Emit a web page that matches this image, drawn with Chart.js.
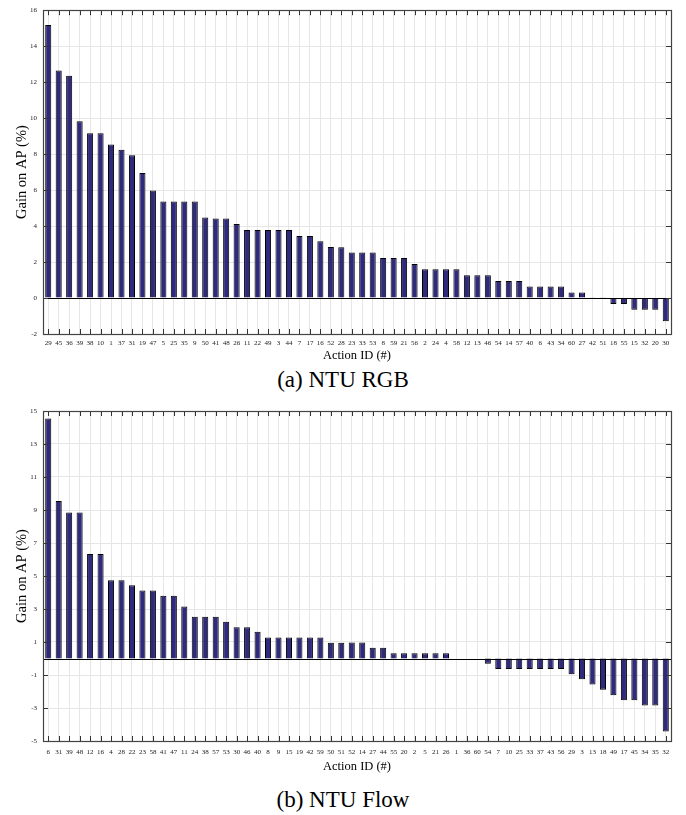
<!DOCTYPE html>
<html>
<head>
<meta charset="utf-8">
<script src="https://cdn.jsdelivr.net/npm/chart.js@4/dist/chart.umd.min.js"></script>
<style>
  html, body { margin: 0; padding: 0; background: #fff; }
  body { width: 686px; height: 815px; position: relative; overflow: hidden; }
  canvas { position: absolute; left: 0; }
  .cap { position: absolute; left: 0; width: 686px; text-align: center; line-height: 26px;
         font-family: "Liberation Serif", serif; font-size: 23px; color: #000; }
</style>
</head>
<body>
<canvas id="rgb-chart" width="686" height="365" style="top:0"></canvas>
<div class="cap" style="top:367px">(a) NTU RGB</div>
<canvas id="flow-chart" width="686" height="375" style="top:400px"></canvas>
<div class="cap" style="top:787px">(b) NTU Flow</div>
<script>
// (a) NTU RGB - action ids sorted by gain
const rgbActions = ['29','45','36','39','38','10','1','37','31','19',
  '47','5','25','35','9','50','41','48','26','11',
  '22','49','3','44','7','17','16','52','28','23',
  '33','53','8','59','21','56','2','24','4','58',
  '12','13','46','54','14','57','40','6','43','34',
  '60','27','42','51','18','55','15','32','20','30'];
const rgbGain = [15.18, 12.65, 12.35, 9.82, 9.16, 9.16, 8.53, 8.24, 7.93, 6.95,
  5.98, 5.36, 5.36, 5.36, 5.36, 4.47, 4.42, 4.42, 4.11, 3.78,
  3.78, 3.78, 3.78, 3.78, 3.45, 3.45, 3.16, 2.84, 2.82, 2.53,
  2.53, 2.53, 2.22, 2.22, 2.22, 1.89, 1.6, 1.6, 1.6, 1.6,
  1.27, 1.27, 1.27, 0.95, 0.95, 0.95, 0.64, 0.64, 0.64, 0.64,
  0.31, 0.31, 0.02, 0.02, -0.33, -0.33, -0.65, -0.65, -0.65, -1.29];
const rgbYRange = [-2, 16];

// (b) NTU Flow
const flowActions = ['6','31','39','48','12','16','4','28','22','23',
  '58','41','47','11','24','38','57','53','30','46',
  '40','8','9','15','19','42','59','50','51','52',
  '14','27','44','55','20','2','5','21','26','1',
  '36','60','54','7','10','25','33','37','43','56',
  '29','3','13','18','49','17','45','34','35','32'];
const flowGain = [14.55, 9.54, 8.85, 8.85, 6.34, 6.34, 4.75, 4.75, 4.44, 4.12,
  4.12, 3.8, 3.8, 3.15, 2.53, 2.53, 2.53, 2.22, 1.9, 1.9,
  1.62, 1.27, 1.27, 1.27, 1.27, 1.27, 1.27, 0.95, 0.95, 0.97,
  0.97, 0.65, 0.65, 0.32, 0.32, 0.32, 0.32, 0.32, 0.32, 0,
  0, 0, -0.32, -0.63, -0.63, -0.63, -0.63, -0.63, -0.63, -0.63,
  -0.95, -1.25, -1.57, -1.9, -2.22, -2.53, -2.53, -2.85, -2.85, -4.42];
const flowYRange = [-5, 15];

const serif = '"Liberation Serif", "Times New Roman", serif';

// matlab style box, inward ticks and zero line
const matlabAxes = {
  id: 'matlabAxes',
  afterDatasetsDraw(chart) {
    const { ctx, chartArea: a, scales: { x, y } } = chart;
    ctx.save();
    ctx.strokeStyle = '#000';
    ctx.lineWidth = 1;
    const z = Math.round(y.getPixelForValue(0)) + 0.5;
    ctx.beginPath();
    ctx.moveTo(a.left, z);
    ctx.lineTo(a.right, z);
    ctx.stroke();

    ctx.strokeStyle = '#333';
    ctx.beginPath();
    x.ticks.forEach((t, i) => {
      const px = Math.round(x.getPixelForTick(i)) + 0.5;
      ctx.moveTo(px, a.bottom); ctx.lineTo(px, a.bottom - 5);
      ctx.moveTo(px, a.top); ctx.lineTo(px, a.top + 5);
    });
    y.ticks.forEach((t, i) => {
      const py = Math.round(y.getPixelForTick(i)) + 0.5;
      ctx.moveTo(a.left, py); ctx.lineTo(a.left + 5, py);
      ctx.moveTo(a.right, py); ctx.lineTo(a.right - 5, py);
    });
    ctx.stroke();

    ctx.strokeStyle = '#444';
    ctx.lineWidth = 1.2;
    ctx.strokeRect(Math.round(a.left) + 0.5, Math.round(a.top) + 0.5,
      Math.round(a.right - a.left), Math.round(a.bottom - a.top));
    ctx.restore();
  }
};

function makeGainChart(id, labels, values, yRange, pad) {
  new Chart(document.getElementById(id), {
    type: 'bar',
    data: {
      labels: labels,
      datasets: [{
        data: values,
        backgroundColor: '#2f2a7c',
        borderColor: '#000',
        borderWidth: 1,
        categoryPercentage: 1,
        barPercentage: 0.58
      }]
    },
    options: {
      responsive: false,
      animation: false,
      layout: { padding: { top: pad.top, right: 15, left: 0, bottom: 0 } },
      plugins: { legend: { display: false }, tooltip: { enabled: false } },
      scales: {
        x: {
          afterFit: s => { s.height = pad.xHeight; },
          grid: { offset: false, color: '#e6e6e6', drawTicks: false },
          border: { display: false },
          ticks: {
            autoSkip: false, maxRotation: 0, padding: pad.xTickPad,
            color: '#222', font: { family: serif, size: 7 }
          },
          title: {
            display: true, text: 'Action ID (#)', color: '#000',
            font: { family: serif, size: 12.5 },
            padding: { top: 0, bottom: pad.xTitlePad }
          }
        },
        y: {
          min: yRange[0], max: yRange[1],
          afterFit: s => { s.width = 43; },
          grid: { color: '#e6e6e6', drawTicks: false },
          border: { display: false },
          ticks: {
            stepSize: 2, padding: 6,
            color: '#222', font: { family: serif, size: 7 }
          },
          title: {
            display: true, text: 'Gain on AP (%)', color: '#000',
            font: { family: serif, size: 14.5 },
            padding: { top: 13, bottom: 0 }
          }
        }
      }
    },
    plugins: [matlabAxes]
  });
}

makeGainChart('rgb-chart', rgbActions, rgbGain, rgbYRange,
  { top: 4, xHeight: 31, xTickPad: 5, xTitlePad: 2 });
makeGainChart('flow-chart', flowActions, flowGain, flowYRange,
  { top: 11, xHeight: 34, xTickPad: 7, xTitlePad: 1 });
</script>
</body>
</html>
